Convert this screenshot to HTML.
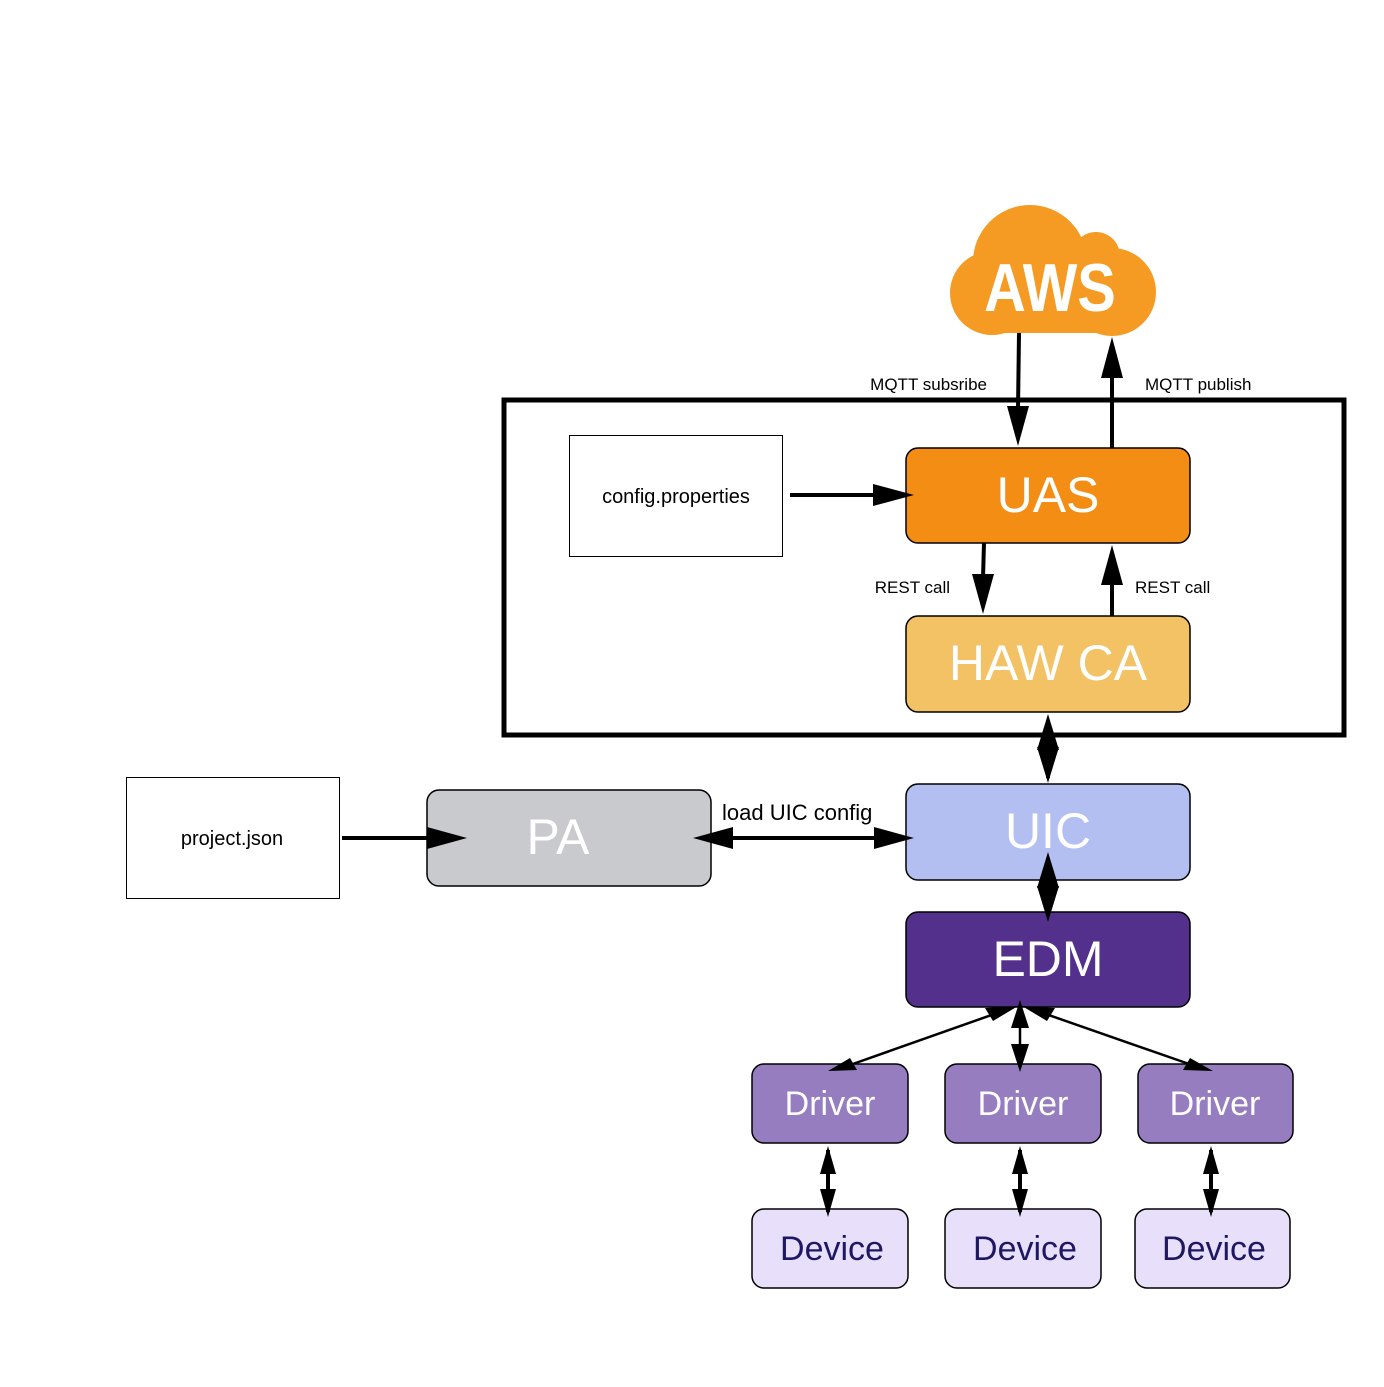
<!DOCTYPE html>
<html><head><meta charset="utf-8"><style>html,body{margin:0;padding:0;background:#fff}svg{display:block}text{font-family:"Liberation Sans",sans-serif}</style></head><body>
<svg width="1384" height="1387" viewBox="0 0 1384 1387" xmlns="http://www.w3.org/2000/svg">
<rect width="1384" height="1387" fill="#fff"/>
<!-- cloud -->
<g fill="#F59B23">
<circle cx="1030" cy="262" r="57"/>
<circle cx="1096" cy="256" r="24"/>
<circle cx="1112" cy="292" r="44"/>
<circle cx="992" cy="293" r="42"/>
<rect x="992" y="280" width="120" height="53"/>
</g>
<text x="1050" y="311" font-size="68" font-weight="bold" fill="#fff" text-anchor="middle" transform="translate(1050 0) scale(0.85 1) translate(-1050 0)">AWS</text>
<!-- frame -->
<rect x="504" y="400" width="840" height="335" fill="none" stroke="#000" stroke-width="5"/>
<!-- boxes -->
<rect x="569.5" y="435.5" width="213" height="121" fill="#fff" stroke="#000"/>
<text x="676" y="503" font-size="20" text-anchor="middle">config.properties</text>
<rect x="126.5" y="777.5" width="213" height="121" fill="#fff" stroke="#000"/>
<text x="232" y="845" font-size="20" text-anchor="middle">project.json</text>
<g stroke="#000" stroke-width="1.5">
<rect x="906" y="448" width="284" height="95" rx="12" fill="#F48D14"/>
<rect x="906" y="616" width="284" height="96" rx="12" fill="#F2C264"/>
<rect x="906" y="784" width="284" height="96" rx="12" fill="#B3BEF1"/>
<rect x="906" y="912" width="284" height="95" rx="12" fill="#53308B"/>
<rect x="427" y="790" width="284" height="96" rx="12" fill="#C9CACE"/>
<rect x="752" y="1064" width="156" height="79" rx="12" fill="#957DBF"/>
<rect x="945" y="1064" width="156" height="79" rx="12" fill="#957DBF"/>
<rect x="1138" y="1064" width="155" height="79" rx="12" fill="#957DBF"/>
<rect x="752" y="1209" width="156" height="79" rx="12" fill="#E8E0FB"/>
<rect x="945" y="1209" width="156" height="79" rx="12" fill="#E8E0FB"/>
<rect x="1135" y="1209" width="155" height="79" rx="12" fill="#E8E0FB"/>
</g>
<g fill="#fff" font-size="50" text-anchor="middle">
<text x="1048" y="512">UAS</text>
<text x="1048" y="680">HAW CA</text>
<text x="1048" y="848">UIC</text>
<text x="1048" y="976">EDM</text>
<text x="558" y="854">PA</text>
</g>
<g fill="#fff" font-size="34" text-anchor="middle">
<text x="830" y="1115">Driver</text>
<text x="1023" y="1115">Driver</text>
<text x="1215" y="1115">Driver</text>
</g>
<g fill="#1E1761" font-size="34" text-anchor="middle">
<text x="832" y="1260">Device</text>
<text x="1025" y="1260">Device</text>
<text x="1214" y="1260">Device</text>
</g>
<!-- labels -->
<g font-size="17">
<text x="987" y="390" text-anchor="end">MQTT subsribe</text>
<text x="1145" y="390">MQTT publish</text>
<text x="950" y="593" text-anchor="end">REST call</text>
<text x="1135" y="593">REST call</text>
</g>
<text x="722" y="820" font-size="22">load UIC config</text>
<!-- lines -->
<g stroke="#000" stroke-width="4" fill="none">
<line x1="1019" y1="333" x2="1018" y2="410"/>
<line x1="1112" y1="448" x2="1112" y2="375"/>
<line x1="790" y1="495" x2="876" y2="495"/>
<line x1="984" y1="543" x2="983" y2="578"/>
<line x1="1112" y1="616" x2="1112" y2="582"/>
<line x1="1048" y1="720" x2="1048" y2="778"/>
<line x1="1048" y1="858" x2="1048" y2="916"/>
<line x1="730" y1="838" x2="878" y2="838"/>
<line x1="342" y1="838" x2="430" y2="838"/>
<line x1="828" y1="1150" x2="828" y2="1212"/>
<line x1="1020" y1="1150" x2="1020" y2="1212"/>
<line x1="1211" y1="1150" x2="1211" y2="1212"/>
</g>
<g stroke="#000" stroke-width="2.5" fill="none">
<line x1="1000" y1="1012" x2="850" y2="1065"/>
<line x1="1020" y1="1012" x2="1020" y2="1068"/>
<line x1="1040" y1="1012" x2="1192" y2="1065"/>
</g>
<!-- heads -->
<g fill="#000">
<polygon points="1018,446 1007,406 1029,406"/>
<polygon points="1112,337 1101,378 1123,378"/>
<polygon points="914,495 873,484 873,506"/>
<polygon points="983,614 972,574 994,574"/>
<polygon points="1112,545 1101,585 1123,585"/>
<polygon points="1048,714 1037,750 1059,750"/>
<polygon points="1048,783 1037,747 1059,747"/>
<polygon points="1048,852 1037,888 1059,888"/>
<polygon points="1048,922 1037,886 1059,886"/>
<polygon points="693,838 733,827 733,849"/>
<polygon points="914,838 874,827 874,849"/>
<polygon points="467,838 427,827 427,849"/>
<polygon points="1020,1000 1011,1028 1029,1028"/>
<polygon points="1020,1072 1011,1044 1029,1044"/>
<polygon points="1018,1006 985,1008 993,1021"/>
<polygon points="1022,1006 1055,1008 1047,1021"/>
<polygon points="828,1071 850,1058 857,1070"/>
<polygon points="1213,1071 1190,1058 1183,1070"/>
<polygon points="828,1146 820,1174 836,1174"/>
<polygon points="828,1217 820,1189 836,1189"/>
<polygon points="1020,1146 1012,1174 1028,1174"/>
<polygon points="1020,1217 1012,1189 1028,1189"/>
<polygon points="1211,1146 1203,1174 1219,1174"/>
<polygon points="1211,1217 1203,1189 1219,1189"/>
</g>
</svg>
</body></html>
